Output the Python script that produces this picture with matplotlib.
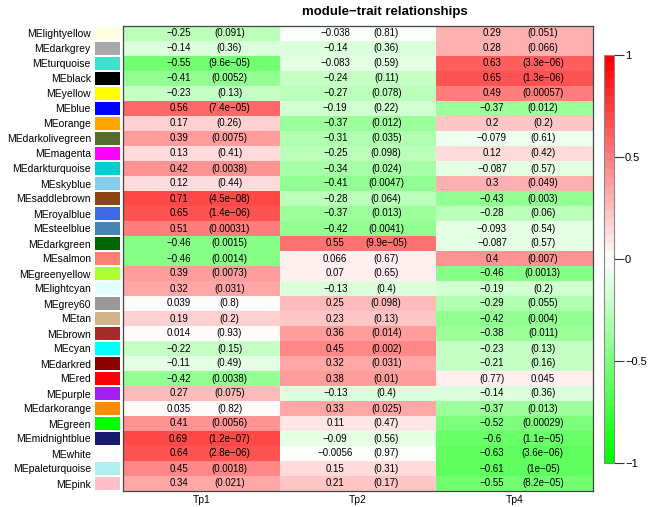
import numpy as np
import matplotlib
matplotlib.use("Agg")
import matplotlib.pyplot as plt
from matplotlib.colors import LinearSegmentedColormap

plt.rcParams['font.family'] = ['Liberation Sans', 'DejaVu Sans']

# data
modules = ["MElightyellow", "MEdarkgrey", "MEturquoise", "MEblack", "MEyellow", "MEblue",
           "MEorange", "MEdarkolivegreen", "MEmagenta", "MEdarkturquoise", "MEskyblue",
           "MEsaddlebrown", "MEroyalblue", "MEsteelblue", "MEdarkgreen", "MEsalmon",
           "MEgreenyellow", "MElightcyan", "MEgrey60", "MEtan", "MEbrown", "MEcyan",
           "MEdarkred", "MEred", "MEpurple", "MEdarkorange", "MEgreen", "MEmidnightblue",
           "MEwhite", "MEpaleturquoise", "MEpink"]
module_colors = ["#FFFFE0", "#A9A9A9", "#40E0D0", "#000000", "#FFFF00", "#0000FF",
                 "#FFA500", "#556B2F", "#FF00FF", "#00CED1", "#87CEEB",
                 "#8B4513", "#4169E1", "#4682B4", "#006400", "#FA8072",
                 "#ADFF2F", "#E0FFFF", "#999999", "#D2B48C", "#A52A2A", "#00FFFF",
                 "#8B0000", "#FF0000", "#A020F0", "#FF8C00", "#00FF00", "#191970",
                 "#FFFFFF", "#AFEEEE", "#FFC0CB"]
traits = ["Tp1", "Tp2", "Tp4"]

cor_tp1 = [-0.25, -0.14, -0.55, -0.41, -0.23, 0.56, 0.17, 0.39, 0.13, 0.42, 0.12,
           0.71, 0.65, 0.51, -0.46, -0.46, 0.39, 0.32, 0.039, 0.19, 0.014, -0.22,
           -0.11, -0.42, 0.27, 0.035, 0.41, 0.69, 0.64, 0.45, 0.34]
p_tp1 = [0.091, 0.36, 9.6e-05, 0.0052, 0.13, 7.4e-05, 0.26, 0.0075, 0.41, 0.0038, 0.44,
         4.5e-08, 1.4e-06, 0.00031, 0.0015, 0.0014, 0.0073, 0.031, 0.8, 0.2, 0.93, 0.15,
         0.49, 0.0038, 0.075, 0.82, 0.0056, 1.2e-07, 2.8e-06, 0.0018, 0.021]
cor_tp2 = [-0.038, -0.14, -0.083, -0.24, -0.27, -0.19, -0.37, -0.31, -0.25, -0.34, -0.41,
           -0.28, -0.37, -0.42, 0.55, 0.066, 0.07, -0.13, 0.25, 0.23, 0.36, 0.45,
           0.32, 0.38, -0.13, 0.33, 0.11, -0.09, -0.0056, 0.15, 0.21]
p_tp2 = [0.81, 0.36, 0.59, 0.11, 0.078, 0.22, 0.012, 0.035, 0.098, 0.024, 0.0047,
         0.064, 0.013, 0.0041, 9.9e-05, 0.67, 0.65, 0.4, 0.098, 0.13, 0.014, 0.002,
         0.031, 0.01, 0.4, 0.025, 0.47, 0.56, 0.97, 0.31, 0.17]
cor_tp4 = [0.29, 0.28, 0.63, 0.65, 0.49, -0.37, 0.2, -0.079, 0.12, -0.087, 0.3,
           -0.43, -0.28, -0.093, -0.087, 0.4, -0.46, -0.19, -0.29, -0.42, -0.38, -0.23,
           -0.21, 0.045, -0.14, -0.37, -0.52, -0.6, -0.63, -0.61, -0.55]
p_tp4 = [0.051, 0.066, 3.3e-06, 1.3e-06, 0.00057, 0.012, 0.2, 0.61, 0.42, 0.57, 0.049,
         0.003, 0.06, 0.54, 0.57, 0.007, 0.0013, 0.2, 0.055, 0.004, 0.011, 0.13,
         0.16, 0.77, 0.36, 0.013, 0.00029, 1.1e-05, 3.6e-06, 1e-05, 8.2e-05]
# cell where the label shows p-value first
swapped = {(23, 2)}

cors = np.array([cor_tp1, cor_tp2, cor_tp4]).T
pvals = np.array([p_tp1, p_tp2, p_tp4]).T
n = len(modules)


def fmt(v):
    return repr(float(v)).replace("-", "\u2212")


cmap = LinearSegmentedColormap.from_list("gwr", ["#00FF00", "#FFFFFF", "#FF0000"], N=50)

fig = plt.figure(figsize=(6.49, 5.07), dpi=100)
W, H = 649, 507


def px_axes(x0, y0, x1, y1):
    return fig.add_axes([x0 / W, 1 - y1 / H, (x1 - x0) / W, (y1 - y0) / H])


ax = px_axes(123, 26, 593, 491)
mesh = ax.pcolormesh(np.arange(len(traits) + 1), np.arange(n + 1), cors,
                     cmap=cmap, vmin=-1, vmax=1)
ax.set_xlim(0, len(traits))
ax.set_ylim(n, 0)
for i in range(n):
    for j in range(len(traits)):
        left = fmt(cors[i, j])
        right = "(" + fmt(pvals[i, j]) + ")"
        if (i, j) in swapped:
            left, right = right, left
        ax.text(j + 0.5 - 0.145, i + 0.5, left, ha="center", va="center", fontsize=7)
        ax.text(j + 0.5 + 0.18, i + 0.5, right, ha="center", va="center", fontsize=7)
ax.set_xticks(np.arange(len(traits)) + 0.5)
ax.set_xticklabels(traits, fontsize=7.5)
ax.tick_params(axis="x", length=0, pad=3)
ax.set_yticks([])
for s in ax.spines.values():
    s.set_color("#444444")
    s.set_linewidth(0.9)

# module colour swatches
sax = px_axes(95, 26, 120, 491)
sax.barh(np.arange(n) + 0.5, 1, height=0.92, color=module_colors)
sax.set_xlim(0, 1)
sax.set_ylim(n, 0)
sax.set_xticks([])
sax.set_yticks(np.arange(n) + 0.5)
sax.set_yticklabels(modules, fontsize=7.5)
sax.tick_params(axis="y", length=0, pad=3)
for s in sax.spines.values():
    s.set_visible(False)

# colour bar
cax = px_axes(604, 55, 614, 463)
cb = fig.colorbar(mesh, cax=cax, ticks=[-1, -0.5, 0, 0.5, 1])
cb.ax.set_yticklabels(["\u22121", "\u22120.5", "0", "0.5", "1"], fontsize=8)
cb.ax.tick_params(length=7, width=0.8, color="#333333", pad=1)
cb.outline.set_edgecolor("#888888")
cb.outline.set_linewidth(0.8)

fig.text(385 / W, 1 - 12 / H, "module\u2212trait relationships", ha="center", va="center",
         fontsize=9.5, fontweight="bold")

fig.savefig("out.png", dpi=100)
